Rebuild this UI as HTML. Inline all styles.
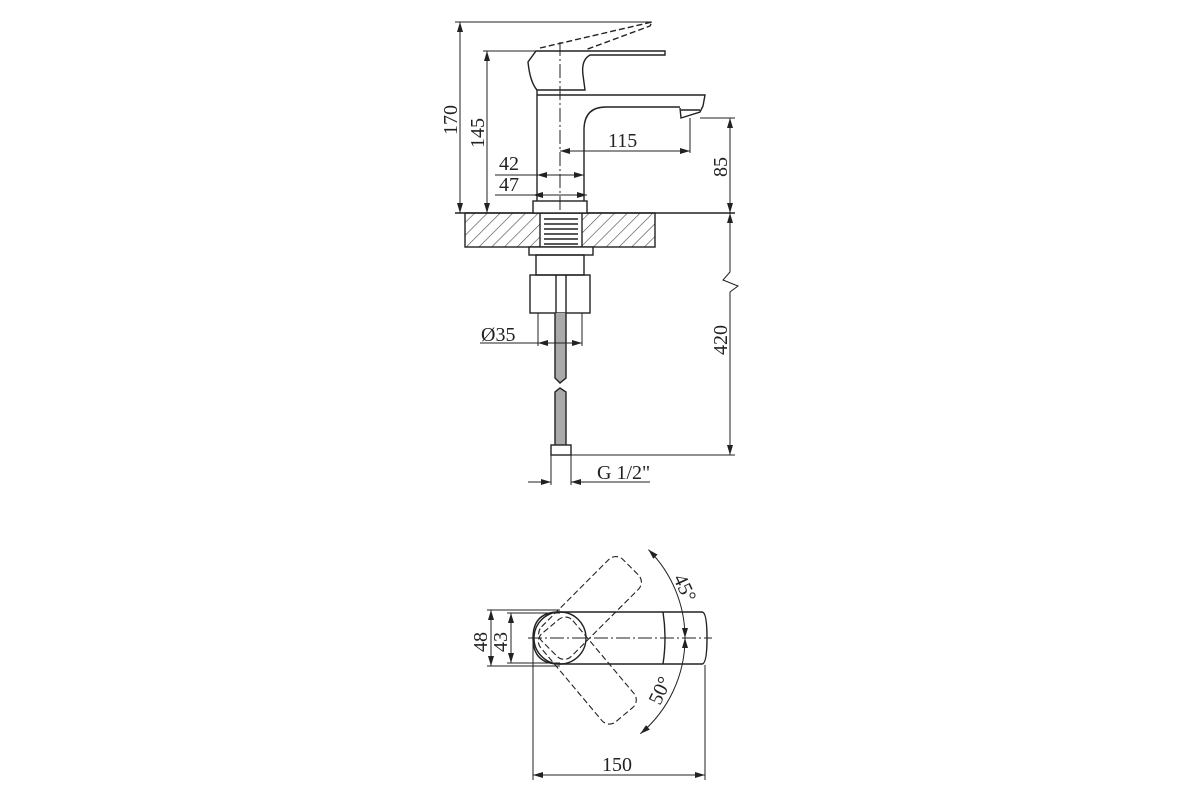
<!DOCTYPE html>
<html><head><meta charset="utf-8"><style>body{margin:0;background:#fff}svg{display:block}text{font-family:"Liberation Serif",serif;font-size:20px;fill:#222}</style></head>
<body>
<svg width="1200" height="800" viewBox="0 0 1200 800" xmlns="http://www.w3.org/2000/svg">
<defs>
<pattern id="h" width="9" height="9" patternUnits="userSpaceOnUse" patternTransform="rotate(45)"><line x1="0" y1="0" x2="0" y2="9" stroke="#444" stroke-width="1.2"/></pattern>
<marker id="a" viewBox="0 0 10 6" refX="10" refY="3" markerWidth="10" markerHeight="6" orient="auto-start-reverse"><path d="M0,0L10,3L0,6z" fill="#222"/></marker>
</defs>
<g fill="none" stroke="#222" stroke-width="1.4">
<rect x="465" y="213" width="190" height="34" fill="url(#h)"/>
<rect x="540" y="213" width="42" height="34" fill="#fff"/>
<g stroke-width="1.6"><line x1="544" y1="219" x2="578" y2="219"/><line x1="544" y1="224" x2="578" y2="224"/><line x1="544" y1="229" x2="578" y2="229"/><line x1="544" y1="234" x2="578" y2="234"/><line x1="544" y1="239" x2="578" y2="239"/><line x1="544" y1="244" x2="578" y2="244"/></g>
<line x1="455" y1="213" x2="735" y2="213"/>
<rect x="533" y="201" width="54" height="12" fill="#fff"/>
<path d="M537,201 V90"/>
<path d="M584,201 V130 Q584,107 606,107 H680"/>
<path d="M537,95 H705 L703,106 L700,112 L681,118 L680,108"/>
<path d="M681,110 H700"/>
<path d="M537,90 Q530,82 528,62 L536,51 H665 V55 H590 Q581,60 583,75 L585,90 Z" fill="#fff"/>
<path d="M540,48 L652,22 L650,26 L585,50" stroke-dasharray="6,3"/>
<line x1="560" y1="42" x2="560" y2="213" stroke-dasharray="14,3,2,3" stroke-width="1"/>
<rect x="529" y="247" width="64" height="8" fill="#fff"/>
<rect x="536" y="255" width="48" height="20"/>
<rect x="530" y="275" width="60" height="38"/>
<line x1="556" y1="275" x2="556" y2="313"/><line x1="566" y1="275" x2="566" y2="313"/>
<path d="M555,313 V378 L560,383 L566,378 V313" fill="#aaa"/>
<path d="M555,445 V392 L560,388 L566,392 V445" fill="#aaa"/>
<rect x="551" y="445" width="20" height="10" fill="#fff"/>
<line x1="455" y1="22" x2="652" y2="22" stroke-width="1"/>
<line x1="460" y1="22" x2="460" y2="213" marker-start="url(#a)" marker-end="url(#a)" stroke-width="1"/>
<line x1="483" y1="51" x2="537" y2="51" stroke-width="1"/>
<line x1="487" y1="51" x2="487" y2="213" marker-start="url(#a)" marker-end="url(#a)" stroke-width="1"/>
<line x1="495" y1="175" x2="584" y2="175" stroke-width="1"/>
<line x1="537" y1="175" x2="584" y2="175" marker-start="url(#a)" marker-end="url(#a)" stroke-width="1"/>
<line x1="495" y1="195" x2="587" y2="195" stroke-width="1"/>
<line x1="533" y1="195" x2="587" y2="195" marker-start="url(#a)" marker-end="url(#a)" stroke-width="1"/>
<line x1="690" y1="118" x2="690" y2="153" stroke-width="1"/>
<line x1="560" y1="151" x2="690" y2="151" marker-start="url(#a)" marker-end="url(#a)" stroke-width="1"/>
<line x1="700" y1="118" x2="735" y2="118" stroke-width="1"/>
<line x1="730" y1="118" x2="730" y2="213" marker-start="url(#a)" marker-end="url(#a)" stroke-width="1"/>
<path d="M730,213 V272 L723,280 L738,286 L730,292 V455" marker-start="url(#a)" marker-end="url(#a)" stroke-width="1"/>
<line x1="571" y1="455" x2="735" y2="455" stroke-width="1"/>
<line x1="538" y1="313" x2="538" y2="346" stroke-width="1"/><line x1="582" y1="313" x2="582" y2="346" stroke-width="1"/>
<line x1="480" y1="343" x2="538" y2="343" stroke-width="1"/>
<line x1="538" y1="343" x2="582" y2="343" marker-start="url(#a)" marker-end="url(#a)" stroke-width="1"/>
<line x1="551" y1="455" x2="551" y2="485" stroke-width="1"/><line x1="571" y1="455" x2="571" y2="485" stroke-width="1"/>
<line x1="528" y1="482" x2="551" y2="482" marker-end="url(#a)" stroke-width="1"/>
<line x1="650" y1="482" x2="571" y2="482" marker-end="url(#a)" stroke-width="1"/>
<path d="M559,612 H702 Q707,612 707,638 Q707,664 702,664 H559 Q533,664 533,638 Q533,612 559,612Z"/>
<path d="M663,612 Q667,638 663,664"/>
<circle cx="560" cy="638" r="26"/>
<line x1="528" y1="638" x2="712" y2="638" stroke-dasharray="14,3,2,3" stroke-width="1"/>
<g stroke-dasharray="6,3" stroke-width="1.1">
<rect x="-15" y="-21" width="115" height="42" rx="10" transform="translate(560,638) rotate(-45)"/>
<rect x="-15" y="-21" width="115" height="42" rx="10" transform="translate(560,638) rotate(50)"/>
</g>
<path d="M648.4,549.6 A125,125 0 0 1 685,638" marker-start="url(#a)" marker-end="url(#a)" stroke-width="1"/>
<path d="M685,638 A125,125 0 0 1 640.3,733.8" marker-start="url(#a)" marker-end="url(#a)" stroke-width="1"/>
<line x1="487" y1="610" x2="560" y2="610" stroke-width="1"/><line x1="487" y1="666" x2="560" y2="666" stroke-width="1"/>
<line x1="491" y1="610" x2="491" y2="666" marker-start="url(#a)" marker-end="url(#a)" stroke-width="1"/>
<line x1="507" y1="613" x2="560" y2="613" stroke-width="1"/><line x1="507" y1="663" x2="560" y2="663" stroke-width="1"/>
<line x1="511" y1="613" x2="511" y2="663" marker-start="url(#a)" marker-end="url(#a)" stroke-width="1"/>
<line x1="533" y1="640" x2="533" y2="780" stroke-width="1"/><line x1="705" y1="665" x2="705" y2="780" stroke-width="1"/>
<line x1="533" y1="775" x2="705" y2="775" marker-start="url(#a)" marker-end="url(#a)" stroke-width="1"/>
</g>
<text x="0" y="0" transform="translate(457,135) rotate(-90)">170</text>
<text x="0" y="0" transform="translate(484,148) rotate(-90)">145</text>
<text x="499" y="170">42</text>
<text x="499" y="191">47</text>
<text x="608" y="147">115</text>
<text x="0" y="0" transform="translate(727,177) rotate(-90)">85</text>
<text x="0" y="0" transform="translate(727,355) rotate(-90)">420</text>
<text x="481" y="341">Ø35</text>
<text x="597" y="479">G 1/2"</text>
<text x="0" y="0" transform="translate(487,652) rotate(-90)">48</text>
<text x="0" y="0" transform="translate(507,652) rotate(-90)">43</text>
<text x="0" y="0" transform="translate(673,578) rotate(65)">45°</text>
<text x="0" y="0" transform="translate(660,706) rotate(-65)">50°</text>
<text x="602" y="771">150</text>
</svg>
</body></html>
